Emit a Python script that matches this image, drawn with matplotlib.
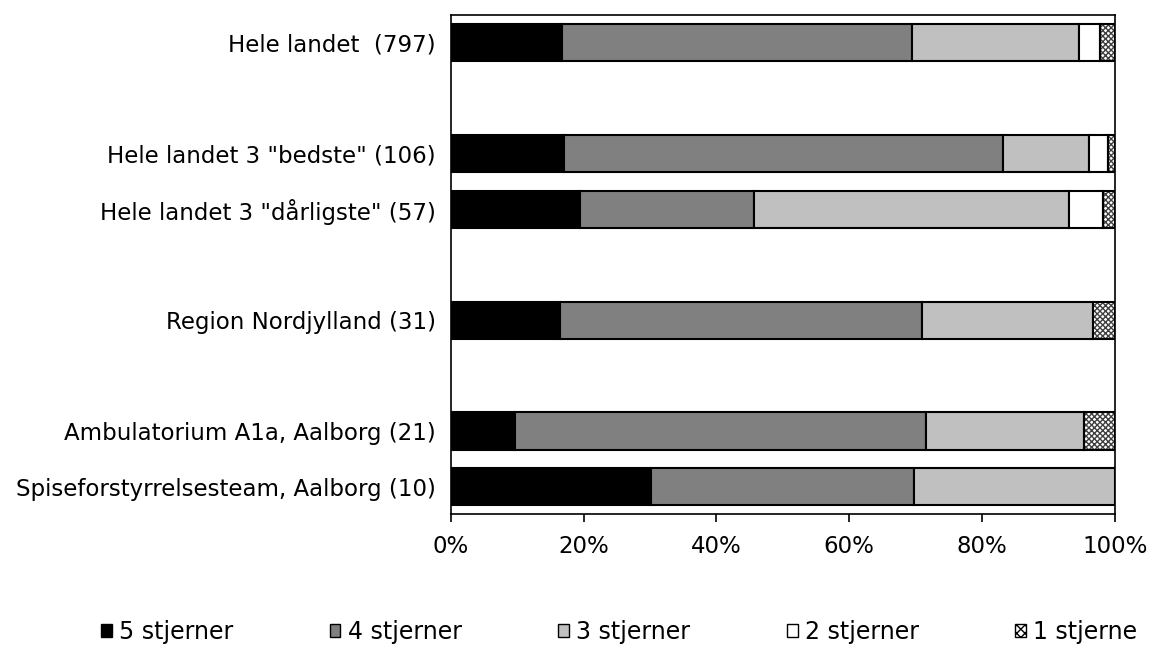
import numpy as np
import matplotlib.pyplot as plt
from matplotlib.patches import Patch

plt.rcParams['font.family'] = 'DejaVu Sans'

# rows from top to bottom; None marks an empty slot
labels = ['Hele landet  (797)', None, 'Hele landet 3 "bedste" (106)',
          'Hele landet 3 "dårligste" (57)', None, 'Region Nordjylland (31)',
          None, 'Ambulatorium A1a, Aalborg (21)', 'Spiseforstyrrelsesteam, Aalborg (10)']

series_names = ['5 stjerner', '4 stjerner', '3 stjerner', '2 stjerner', '1 stjerne']

# shares in percent, per row (None rows skipped)
stars5 = [16.7, None, 17.0, 19.5, None, 16.4, None, 9.7, 30.2]
stars4 = [52.7, None, 66.1, 26.1, None, 54.6, None, 61.8, 39.6]
stars3 = [25.2, None, 13.0, 47.5, None, 25.7, None, 23.8, 30.2]
stars2 = [3.1, None, 2.8, 5.1, None, 0.0, None, 0.0, 0.0]
stars1 = [2.3, None, 1.1, 1.8, None, 3.3, None, 4.7, 0.0]

colors = ['#000000', '#808080', '#c0c0c0', '#ffffff', '#ffffff']

fig = plt.figure(figsize=(11.53, 6.51), dpi=100)
ax = fig.add_axes([0.391, 0.210, 0.576, 0.767])

y = np.arange(len(labels))
bar_h = 0.67
all_series = [stars5, stars4, stars3, stars2, stars1]

for i in range(len(labels)):
    if labels[i] is None:
        continue
    left = 0.0
    for k, s in enumerate(all_series):
        v = s[i]
        if v <= 0:
            continue
        if k == 4:
            # checkered segment: grey hatch, then black outline on top
            ax.barh(y[i], v, left=left, height=bar_h, color='white',
                    hatch='xxxxxx', edgecolor='#404040', linewidth=0)
            ax.barh(y[i], v, left=left, height=bar_h, fill=False,
                    edgecolor='black', linewidth=1.5)
        else:
            ax.barh(y[i], v, left=left, height=bar_h, color=colors[k],
                    edgecolor='black', linewidth=1.5)
        left += v

ax.set_xlim(0, 100)
ax.set_ylim(len(labels) - 0.5, -0.5)
ax.set_yticks([i for i in y if labels[i] is not None])
ax.set_yticklabels([l for l in labels if l is not None], fontsize=16.5)
ax.tick_params(axis='y', length=0, pad=11)
ax.set_xticks(np.arange(0, 101, 20))
ax.set_xticklabels([f'{v}%' for v in range(0, 101, 20)], fontsize=16.5)
ax.tick_params(axis='x', length=6, width=1.2, pad=9)
for sp in ax.spines.values():
    sp.set_linewidth(1.2)

handles = [Patch(facecolor=colors[k], edgecolor='black', linewidth=1,
                 hatch='xxxx' if k == 4 else None) for k in range(5)]
fig.legend(handles, series_names, loc='center', bbox_to_anchor=(0.537, 0.029),
           ncol=5, frameon=False, fontsize=17, handlelength=0.45, handleheight=0.45,
           handletextpad=0.3, columnspacing=4.1)

fig.savefig('out.png', dpi=100)
